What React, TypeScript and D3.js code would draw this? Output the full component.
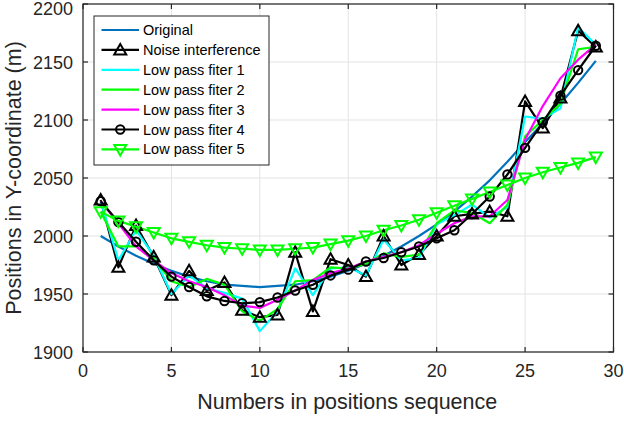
import React from "react";
import * as d3 from "d3";

const positions = [1,2,3,4,5,6,7,8,9,10,11,12,13,14,15,16,17,18,19,20,21,22,23,24,25,26,27,28,29];
const original = [2000,1991,1983,1976,1970,1965,1961,1958,1957,1956,1957,1958,1961,1965,1970,1976,1983,1991,2000,2010,2021,2034,2048,2064,2081,2097,2114,2132,2151];
const noise = [2031,1973,2009,1982,1949,1970,1953,1960,1936,1930,1932,1986,1935,1980,1975,1965,2000,1975,1984,2000,2017,2019,2021,2017,2116,2093,2119,2177,2163];
const lp1 = [2030,1979,2005,1983,1950,1966,1955,1951,1946,1918,1935,1972,1949,1972,1973,1966,1997,1979,1981,2010,2018,2027,2016,2025,2103,2101,2110,2180,2165];
const lp2 = [2021,1991,1991,1981,1961,1956,1963,1958,1935,1927,1937,1961,1962,1973,1972,1976,1985,1982,1984,2011,2022,2020,2011,2027,2086,2100,2114,2161,2163];
const lp3 = [2030,2011,1991,1979,1968,1961,1956,1949,1940,1938,1945,1953,1962,1968,1972,1978,1982,1986,1992,2002,2011,2017,2017,2031,2083,2112,2136,2152,2165];
const lp4 = [2030,2012,1995,1979,1965,1956,1948,1944,1942,1943,1947,1953,1958,1966,1971,1978,1981,1986,1991,1998,2005,2019,2034,2053,2076,2098,2121,2143,2164];
const lp5 = [2021,2013,2008,2003,1998,1995,1992,1990,1989,1988,1988,1989,1990,1993,1996,2000,2005,2009,2014,2020,2026,2032,2038,2044,2050,2055,2059,2063,2068];

const xTicks = [0,5,10,15,20,25,30];
const yTicks = [1900,1950,2000,2050,2100,2150,2200];

const seriesNames = ["Original","Noise interference","Low pass fiter 1","Low pass fiter 2","Low pass fiter 3","Low pass fiter 4","Low pass fiter 5"];
const seriesData = [original, noise, lp1, lp2, lp3, lp4, lp5];
const seriesColors = ["#0072BD","#000000","#00FFFF","#00FF00","#FF00FF","#000000","#00FF00"];
const seriesMarkers = ["none","tri-up","none","none","none","circle","tri-down"];

const W = 624, H = 421;
const L = 83, R = 613.5, T = 4, B = 352;
const FONT = "'Liberation Sans', Arial, Helvetica, sans-serif";
const AX = "#262626";

function Marker({ type, x, y, color }: { type: string; x: number; y: number; color: string }) {
  const s = 6;
  if (type === "tri-up") {
    const p = `M${x},${y - s} L${x + s},${y + s * 0.75} L${x - s},${y + s * 0.75} Z`;
    return <path d={p} fill="none" stroke={color} strokeWidth={2} strokeLinejoin="miter" />;
  }
  if (type === "tri-down") {
    const p = `M${x},${y + s} L${x + s},${y - s * 0.75} L${x - s},${y - s * 0.75} Z`;
    return <path d={p} fill="none" stroke={color} strokeWidth={2} />;
  }
  if (type === "circle") {
    return <circle cx={x} cy={y} r={4.2} fill="none" stroke={color} strokeWidth={2} />;
  }
  return null;
}

export default function App() {
  const x = d3.scaleLinear().domain([0, 30]).range([L, R]);
  const y = d3.scaleLinear().domain([1900, 2200]).range([B, T]);
  const line = d3.line<number>().x((_, i) => x(positions[i])).y((d) => y(d));

  const legX = 94, legY = 16, legW = 175, legH = 149;
  const rowY = (i: number) => 30 + i * 19.9;

  return (
    <svg width={W} height={H} style={{ position: "absolute", left: 0, top: 0, background: "#fff" }} fontFamily={FONT}>
      <rect x={0} y={0} width={W} height={H} fill="#fff" />
      {xTicks.map((t) => (
        <line key={"gx" + t} x1={x(t)} x2={x(t)} y1={T} y2={B} stroke="#e3e3e3" strokeWidth={1} />
      ))}
      {yTicks.map((t) => (
        <line key={"gy" + t} x1={L} x2={R} y1={y(t)} y2={y(t)} stroke="#e3e3e3" strokeWidth={1} />
      ))}
      <g>
        {seriesData.map((d, si) => (
          <path key={"s" + si} d={line(d) || ""} fill="none" stroke={seriesColors[si]} strokeWidth={2.2} strokeLinejoin="round" />
        ))}
        {seriesData.map((d, si) =>
          seriesMarkers[si] === "none"
            ? null
            : d.map((v, i) => (
                <Marker key={"m" + si + "-" + i} type={seriesMarkers[si]} x={x(positions[i])} y={y(v)} color={seriesColors[si]} />
              ))
        )}
      </g>
      <rect x={L} y={T} width={R - L} height={B - T} fill="none" stroke={AX} strokeWidth={1.2} />
      {xTicks.map((t) => (
        <g key={"tx" + t}>
          <line x1={x(t)} x2={x(t)} y1={B} y2={B - 5} stroke={AX} strokeWidth={1.2} />
          <line x1={x(t)} x2={x(t)} y1={T} y2={T + 5} stroke={AX} strokeWidth={1.2} />
          <text x={x(t)} y={377} textAnchor="middle" fontSize={18} fill={AX}>{t}</text>
        </g>
      ))}
      {yTicks.map((t) => (
        <g key={"ty" + t}>
          <line x1={L} x2={L + 5} y1={y(t)} y2={y(t)} stroke={AX} strokeWidth={1.2} />
          <line x1={R} x2={R - 5} y1={y(t)} y2={y(t)} stroke={AX} strokeWidth={1.2} />
          <text x={73} y={Math.max(y(t) + 6.5, 15)} textAnchor="end" fontSize={18} fill={AX}>{t}</text>
        </g>
      ))}
      <text x={(L + R) / 2 - 1} y={409} textAnchor="middle" fontSize={21.5} fill={AX}>Numbers in positions sequence</text>
      <text transform={`translate(21,${(T + B) / 2}) rotate(-90)`} textAnchor="middle" fontSize={21.5} fill={AX}>Positions in Y-coordinate (m)</text>
      <rect x={legX} y={legY} width={legW} height={legH} fill="#fff" stroke={AX} strokeWidth={1} />
      {seriesNames.map((n, i) => (
        <g key={"l" + i}>
          <line x1={101.5} x2={139} y1={rowY(i)} y2={rowY(i)} stroke={seriesColors[i]} strokeWidth={2.2} />
          <Marker type={seriesMarkers[i]} x={120.25} y={rowY(i)} color={seriesColors[i]} />
          <text x={143} y={rowY(i) + 5} fontSize={14.5} fill="#000">{n}</text>
        </g>
      ))}
    </svg>
  );
}
